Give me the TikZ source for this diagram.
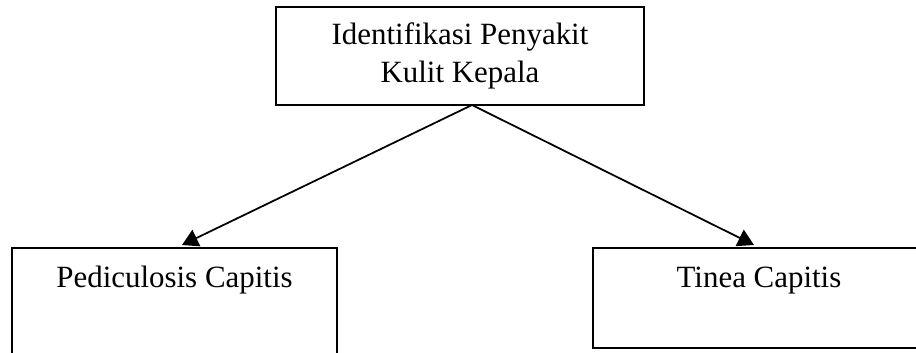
\documentclass[tikz,border=0pt]{standalone}
\usepackage{fontspec}
\setmainfont{Liberation Serif}
\usetikzlibrary{positioning,arrows.meta}

\begin{document}
\begin{tikzpicture}[
        x=0.02cm, y=-0.02cm,
        >={Triangle[length=0.32cm,width=0.36cm]},
        diagbox/.style={
            draw=black,
            line width=1.1pt,
            align=center,
            font=\fontsize{17.6}{21.6}\selectfont
        },
        topbox/.style={
            diagbox,
            minimum width=7.36cm,
            minimum height=1.96cm
        },
        leafbox/.style={
            diagbox,
            anchor=north,
            inner ysep=0.2cm,
            text height=0.6cm,
            minimum width=6.5cm
        },
        connector/.style={
            ->,
            line width=1pt
        }
    ]
        \useasboundingbox (0,0) rectangle (916,352);
        \clip (0,0) rectangle (916,352);
        \node[topbox] (ident) at (460,56) {Identifikasi Penyakit\\Kulit Kepala};
        \node[leafbox, text depth=1.3cm] (pedic) at (174.5,247) {Pediculosis Capitis};
        \node[leafbox, text depth=1.0cm, minimum width=6.64cm] (tinea) at (759,247) {Tinea Capitis};

        \coordinate (split) at (472,105);
        \coordinate (pedictip) at (182,245);
        \coordinate (tineatip) at (754,245);

        \draw[connector] (split) -- (pedictip);
        \draw[connector] (split) -- (tineatip);
    \end{tikzpicture}
\end{document}
